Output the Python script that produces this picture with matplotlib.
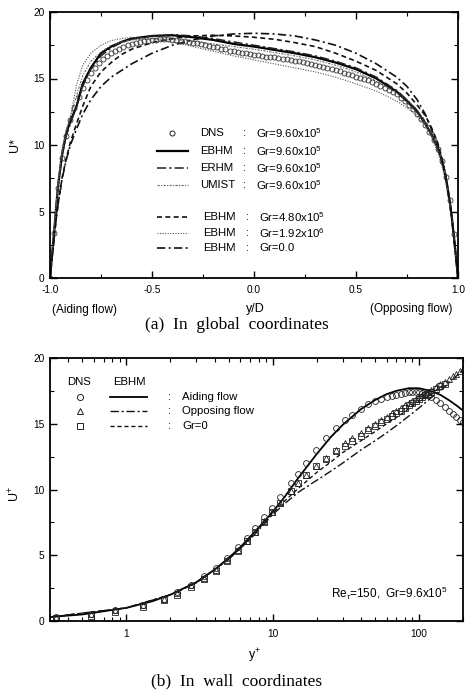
import matplotlib
matplotlib.use("Agg")
import matplotlib.pyplot as plt
from matplotlib.ticker import MultipleLocator, LogLocator, NullFormatter, FixedLocator, FixedFormatter

plt.rcParams['font.family'] = ['Liberation Sans', 'DejaVu Sans']
plt.rcParams['mathtext.fontset'] = 'custom'
plt.rcParams['mathtext.rm'] = 'Liberation Sans'
plt.rcParams['mathtext.it'] = 'Liberation Sans:italic'

# ---------------- (a) global coordinates ----------------
yd_grid = [-1.0, -0.99, -0.98, -0.97, -0.96, -0.94, -0.92, -0.90, -0.87, -0.84,
           -0.80, -0.75, -0.70, -0.65, -0.60, -0.50, -0.40, -0.30, -0.20, -0.10,
           0.0, 0.10, 0.20, 0.30, 0.40, 0.50, 0.60, 0.70, 0.75, 0.80,
           0.84, 0.87, 0.90, 0.92, 0.94, 0.96, 0.97, 0.98, 0.99, 1.0]
ebhm_96 = [0, 1.7, 3.4, 5.3, 7.0, 9.4, 10.9, 11.8, 12.9, 14.6,
           15.8, 16.9, 17.4, 17.75, 18.0, 18.2, 18.25, 18.1, 17.9, 17.6,
           17.4, 17.15, 16.9, 16.6, 16.2, 15.7, 15.0, 14.0, 13.3, 12.5,
           11.6, 10.8, 9.8, 8.9, 7.6, 5.7, 4.5, 3.1, 1.6, 0]
erhm_96 = [0, 1.7, 3.4, 5.2, 6.9, 9.2, 10.7, 11.6, 12.9, 14.4,
           15.7, 16.7, 17.3, 17.7, 17.95, 18.2, 18.3, 18.2, 18.0, 17.75,
           17.5, 17.25, 17.0, 16.7, 16.3, 15.8, 15.1, 14.1, 13.4, 12.6,
           11.7, 10.9, 9.9, 9.0, 7.7, 5.8, 4.6, 3.2, 1.6, 0]
umist_96 = [0, 1.8, 3.5, 5.4, 7.2, 9.6, 11.1, 12.1, 13.7, 15.2,
            16.3, 17.0, 17.5, 17.75, 17.9, 18.0, 17.95, 17.8, 17.6, 17.4,
            17.2, 16.95, 16.7, 16.4, 16.0, 15.5, 14.8, 13.9, 13.2, 12.4,
            11.6, 10.8, 9.8, 8.9, 7.6, 5.7, 4.5, 3.1, 1.6, 0]
ebhm_48 = [0, 1.5, 3.0, 4.4, 5.6, 7.6, 9.0, 10.2, 11.6, 12.9,
           14.4, 15.5, 16.2, 16.8, 17.2, 17.7, 18.0, 18.2, 18.25, 18.2,
           18.1, 17.95, 17.7, 17.4, 16.9, 16.3, 15.6, 14.6, 13.9, 13.0,
           12.2, 11.3, 10.2, 9.1, 7.7, 5.7, 4.5, 3.1, 1.6, 0]
ebhm_192 = [0, 1.8, 3.6, 5.5, 7.3, 9.8, 11.2, 12.1, 14.5, 16.0,
            16.9, 17.5, 17.85, 18.0, 18.1, 18.0, 17.75, 17.4, 17.05, 16.7,
            16.4, 16.1, 15.8, 15.5, 15.1, 14.6, 14.05, 13.3, 12.8, 12.2,
            11.4, 10.6, 9.5, 8.5, 7.2, 5.4, 4.3, 3.0, 1.5, 0]
ebhm_gr0 = [0, 1.5, 3.0, 4.4, 5.6, 7.5, 8.9, 10.0, 11.2, 12.3,
            13.4, 14.4, 15.1, 15.6, 16.1, 16.9, 17.5, 17.9, 18.2, 18.35,
            18.4, 18.35, 18.2, 17.9, 17.5, 16.9, 16.1, 15.1, 14.4, 13.4,
            12.3, 11.2, 10.0, 8.9, 7.5, 5.6, 4.4, 3.0, 1.5, 0]

dns_yd = [-1.00, -0.98, -0.96, -0.94, -0.92, -0.90, -0.88, -0.86, -0.84, -0.82,
          -0.80, -0.78, -0.76, -0.74, -0.72, -0.70, -0.68, -0.66, -0.64, -0.62,
          -0.60, -0.58, -0.56, -0.54, -0.52, -0.50, -0.48, -0.46, -0.44, -0.42,
          -0.40, -0.38, -0.36, -0.34, -0.32, -0.30, -0.28, -0.26, -0.24, -0.22,
          -0.20, -0.18, -0.16, -0.14, -0.12, -0.10, -0.08, -0.06, -0.04, -0.02,
          0.00, 0.02, 0.04, 0.06, 0.08, 0.10, 0.12, 0.14, 0.16, 0.18,
          0.20, 0.22, 0.24, 0.26, 0.28, 0.30, 0.32, 0.34, 0.36, 0.38,
          0.40, 0.42, 0.44, 0.46, 0.48, 0.50, 0.52, 0.54, 0.56, 0.58,
          0.60, 0.62, 0.64, 0.66, 0.68, 0.70, 0.72, 0.74, 0.76, 0.78,
          0.80, 0.82, 0.84, 0.86, 0.88, 0.90, 0.92, 0.94, 0.96, 0.98, 1.00]
dns_u = [0.0, 3.4, 6.8, 9.0, 10.7, 11.9, 12.8, 13.6, 14.3, 14.9,
         15.4, 15.8, 16.15, 16.45, 16.7, 16.9, 17.1, 17.25, 17.4, 17.5,
         17.6, 17.7, 17.75, 17.8, 17.85, 17.9, 17.9, 17.95, 17.95, 17.95,
         17.9, 17.9, 17.85, 17.8, 17.75, 17.7, 17.65, 17.6, 17.5, 17.45,
         17.4, 17.35, 17.25, 17.2, 17.1, 17.05, 17.0, 16.95, 16.9, 16.85,
         16.8, 16.75, 16.7, 16.65, 16.65, 16.6, 16.55, 16.5, 16.45, 16.4,
         16.35, 16.3, 16.25, 16.2, 16.1, 16.05, 15.95, 15.9, 15.8, 15.75,
         15.65, 15.55, 15.45, 15.35, 15.25, 15.15, 15.05, 14.95, 14.85, 14.7,
         14.6, 14.45, 14.3, 14.15, 14.0, 13.8, 13.55, 13.3, 13.0, 12.7,
         12.35, 11.95, 11.5, 11.0, 10.4, 9.7, 8.8, 7.6, 5.9, 3.3, 0.0]

legend_a_names = ["DNS", "EBHM", "ERHM", "UMIST", "EBHM", "EBHM", "EBHM"]
legend_a_gr = ["Gr=9.60x10$^5$", "Gr=9.60x10$^5$", "Gr=9.60x10$^5$", "Gr=9.60x10$^5$",
               "Gr=4.80x10$^5$", "Gr=1.92x10$^6$", "Gr=0.0"]

# ---------------- (b) wall coordinates ----------------
dns_yp = [0.33, 0.57, 0.84, 1.3, 1.8, 2.2, 2.75, 3.4, 4.1, 4.9,
          5.8, 6.7, 7.6, 8.7, 9.9, 11.3, 13.3, 14.8, 16.8, 19.7,
          23, 27, 31, 35, 40, 45, 50, 55, 60, 65,
          70, 75, 80, 85, 90, 95, 100, 105, 110, 115,
          120, 130, 140, 150, 160, 170, 180, 190, 200]
dns_aid = [0.3, 0.5, 0.8, 1.2, 1.7, 2.2, 2.75, 3.4, 4.0, 4.8,
           5.6, 6.3, 7.1, 7.9, 8.6, 9.4, 10.5, 11.2, 12.0, 13.0,
           13.9, 14.7, 15.3, 15.7, 16.1, 16.5, 16.7, 16.9, 17.0, 17.1,
           17.2, 17.3, 17.35, 17.4, 17.45, 17.45, 17.4, 17.35, 17.25, 17.15,
           17.0, 16.8, 16.55, 16.3, 16.0, 15.75, 15.5, 15.3, 15.1]
dns_opp = [0.3, 0.5, 0.8, 1.2, 1.7, 2.15, 2.7, 3.3, 3.9, 4.65,
           5.4, 6.1, 6.8, 7.6, 8.3, 9.0, 9.9, 10.5, 11.1, 11.8,
           12.4, 13.0, 13.5, 13.9, 14.3, 14.7, 15.0, 15.3, 15.55, 15.8,
           16.0, 16.2, 16.4, 16.6, 16.75, 16.9, 17.05, 17.2, 17.3, 17.45,
           17.55, 17.8, 18.0, 18.2, 18.4, 18.6, 18.8, 19.0, 19.2]
dns_gr0_yp = [0.33, 0.57, 0.84, 1.3, 1.8, 2.2, 2.75, 3.4, 4.1, 4.9,
              5.8, 6.7, 7.6, 8.7, 9.9, 11.3, 13.3, 14.8, 16.8, 19.7,
              23, 27, 31, 35, 40, 45, 50, 55, 60, 65,
              70, 75, 80, 85, 90, 95, 100, 105, 110, 115,
              120, 130, 140, 150]
dns_gr0 = [0.2, 0.4, 0.7, 1.1, 1.6, 2.0, 2.6, 3.2, 3.8, 4.6,
           5.3, 6.1, 6.8, 7.5, 8.3, 9.0, 9.9, 10.5, 11.1, 11.8,
           12.3, 12.9, 13.3, 13.7, 14.1, 14.5, 14.8, 15.1, 15.35, 15.6,
           15.8, 16.0, 16.2, 16.4, 16.55, 16.7, 16.85, 17.0, 17.15, 17.3,
           17.4, 17.65, 17.85, 18.0]

ebhm_aid_yp = [0.3, 0.5, 1, 1.5, 2, 3, 4, 5, 6, 7, 8, 10, 12, 15, 20, 25, 30,
               40, 50, 60, 70, 85, 100, 120, 140, 160, 180, 200]
ebhm_aid = [0.3, 0.5, 1.0, 1.5, 2.0, 2.95, 3.9, 4.8, 5.6, 6.4, 7.1, 8.3, 9.4, 10.9,
            12.7, 14.0, 14.9, 16.1, 16.8, 17.25, 17.5, 17.7, 17.7, 17.5, 17.2,
            16.8, 16.4, 16.0]
ebhm_opp_yp = [0.3, 1, 2, 3, 5, 7, 10, 12, 15, 20, 25, 30, 40, 50, 60, 75,
               100, 125, 150, 175, 200]
ebhm_opp = [0.3, 1.0, 2.0, 2.9, 4.7, 6.2, 8.1, 8.9, 9.8, 10.7, 11.4, 12.0, 13.0,
            13.7, 14.3, 15.1, 16.2, 17.1, 17.8, 18.5, 19.1]
ebhm_gr0_yp = [0.3, 1, 2, 3, 5, 7, 10, 12, 15, 20, 25, 30, 40, 50, 60, 75,
               100, 125, 150]
ebhm_gr0b = [0.3, 1.0, 2.0, 2.9, 4.7, 6.3, 8.2, 9.1, 10.1, 11.3, 12.1, 12.8, 13.7,
             14.4, 15.0, 15.7, 16.7, 17.4, 18.0]

legend_b_labels = ["Aiding flow", "Opposing flow", "Gr=0"]

# ---------------- figure ----------------
W, H = 466, 693
fig = plt.figure(figsize=(W / 100, H / 100), dpi=100)

def fx(px):
    return px / W

def fy(py):
    return 1 - py / H

TS = 7.3
LS = 8.2

# panel (a)
axa = fig.add_axes([fx(50), fy(278), fx(458) - fx(50), fy(12) - fy(278)])
axa.plot(yd_grid, ebhm_96, color='black', lw=1.6, ls='-')
axa.plot(yd_grid, erhm_96, color='#222222', lw=1.1, ls=(0, (6, 2, 1.5, 2)))
axa.plot(yd_grid, umist_96, color='#666666', lw=0.8, ls=(0, (2, 1.2, 1, 1.2)))
axa.plot(yd_grid, ebhm_48, color='#111111', lw=1.2, ls=(0, (3, 2)))
axa.plot(yd_grid, ebhm_192, color='#555555', lw=0.8, ls=(0, (1, 1.3)))
axa.plot(yd_grid, ebhm_gr0, color='#111111', lw=1.2, ls=(0, (5, 2, 1.2, 2)))
axa.plot(dns_yd, dns_u, ls='none', marker='o', ms=3.6, mfc='none', mec='#333333', mew=0.6)

axa.set_xlim(-1.0, 1.0)
axa.set_ylim(0, 20)
axa.xaxis.set_minor_locator(MultipleLocator(0.25))
axa.yaxis.set_minor_locator(MultipleLocator(2.5))
axa.set_yticks([0, 5, 10, 15, 20])
axa.set_yticklabels(["0", "5", "10", "15", "20"])
axa.set_xticks([-1.0, -0.5, 0.0, 0.5, 1.0])
axa.set_xticklabels(["-1.0", "-0.5", "0.0", "0.5", "1.0"])
axa.tick_params(which='both', direction='in', top=True, right=True, labelsize=TS)
axa.tick_params(axis='x', pad=5)
axa.tick_params(axis='y', pad=4)
axa.tick_params(which='major', length=5, width=1)
axa.tick_params(which='minor', length=3, width=0.8)
for s in axa.spines.values():
    s.set_linewidth(1.3)

fig.text(fx(15), fy(145), "U*", rotation=90, ha='center', va='center', fontsize=9)
fig.text(fx(255), fy(309), "y/D", ha='center', va='center', fontsize=9)
fig.text(fx(85), fy(310), "(Aiding flow)", ha='center', va='center', fontsize=8.5)
fig.text(fx(411), fy(309), "(Opposing flow)", ha='center', va='center', fontsize=8.5)
fig.text(fx(237), fy(325), "(a)  In  global  coordinates", ha='center', va='center',
         fontsize=12.5, family='Liberation Serif')

# legend (a)
rows_py = [133, 151, 168, 185, 217, 233, 248]
styles = [
    dict(ls='none', marker='o', ms=3.6, mfc='none', mec='#222222', mew=0.7),
    dict(color='black', lw=1.6, ls='-'),
    dict(color='#222222', lw=1.1, ls=(0, (6, 2, 1.5, 2))),
    dict(color='#666666', lw=0.8, ls=(0, (2, 1.2, 1, 1.2))),
    dict(color='#111111', lw=1.2, ls=(0, (3, 2))),
    dict(color='#555555', lw=0.8, ls=(0, (1, 1.3))),
    dict(color='#111111', lw=1.2, ls=(0, (5, 2, 1.2, 2))),
]
for i, (py, name, gr, st) in enumerate(zip(rows_py, legend_a_names, legend_a_gr, styles)):
    if i == 0:
        fig.add_artist(plt.Line2D([fx(172)], [fy(py)], transform=fig.transFigure, **st))
    else:
        fig.add_artist(plt.Line2D([fx(157), fx(188)], [fy(py), fy(py)],
                                  transform=fig.transFigure, **st))
    xo = 0 if i < 4 else 3
    fig.text(fx(200 + xo), fy(py), name, ha='left', va='center', fontsize=LS)
    fig.text(fx(245 + xo), fy(py), ":", ha='center', va='center', fontsize=LS)
    fig.text(fx(256 + xo), fy(py), gr, ha='left', va='center', fontsize=LS)

# panel (b)
axb = fig.add_axes([fx(50), fy(621), fx(463) - fx(50), fy(358) - fy(621)])
axb.plot(ebhm_aid_yp, ebhm_aid, color='black', lw=1.3, ls='-')
axb.plot(ebhm_opp_yp, ebhm_opp, color='#111111', lw=1.0, ls=(0, (6, 2, 1.5, 2)))
axb.plot(ebhm_gr0_yp, ebhm_gr0b, color='#111111', lw=1.0, ls=(0, (3, 2)))
axb.plot(dns_yp, dns_aid, ls='none', marker='o', ms=4.2, mfc='none', mec='#222222', mew=0.6)
axb.plot(dns_yp, dns_opp, ls='none', marker='^', ms=4.4, mfc='none', mec='#222222', mew=0.6)
axb.plot(dns_gr0_yp, dns_gr0, ls='none', marker='s', ms=4.0, mfc='none', mec='#222222', mew=0.6)

axb.set_xscale('log')
axb.set_xlim(0.3, 200)
axb.set_ylim(0, 20)
axb.xaxis.set_major_locator(FixedLocator([1, 10, 100]))
axb.xaxis.set_major_formatter(FixedFormatter(["1", "10", "100"]))
axb.xaxis.set_minor_locator(LogLocator(base=10, subs=range(2, 10)))
axb.xaxis.set_minor_formatter(NullFormatter())
axb.yaxis.set_major_locator(MultipleLocator(5))
axb.yaxis.set_minor_locator(MultipleLocator(2.5))
axb.tick_params(which='both', direction='in', top=True, right=True, labelsize=TS)
axb.tick_params(axis='x', pad=6)
axb.tick_params(axis='y', pad=4)
axb.tick_params(which='major', length=5, width=1)
axb.tick_params(which='minor', length=3, width=0.8)
for s in axb.spines.values():
    s.set_linewidth(1.3)

fig.text(fx(15), fy(494), "U$^{+}$", rotation=90, ha='center', va='center', fontsize=9)
fig.text(fx(255), fy(656), "y$^{+}$", ha='center', va='center', fontsize=9)
fig.text(fx(237), fy(681), "(b)  In  wall  coordinates", ha='center', va='center',
         fontsize=12.5, family='Liberation Serif')
fig.text(fx(447), fy(593), "Re$_{\\tau}$=150,  Gr=9.6x10$^{5}$", ha='right', va='center',
         fontsize=8.5)

# legend (b)
fig.text(fx(79), fy(382), "DNS", ha='center', va='center', fontsize=LS)
fig.text(fx(129), fy(382), "EBHM", ha='center', va='center', fontsize=LS)
rows_b = [397, 411, 426]
mk = ['o', '^', 's']
lst = [dict(color='black', lw=1.3, ls='-'),
       dict(color='#111111', lw=1.0, ls=(0, (6, 2, 1.5, 2))),
       dict(color='#111111', lw=1.0, ls=(0, (3, 2)))]
for py, m, st, lab in zip(rows_b, mk, lst, legend_b_labels):
    fig.add_artist(plt.Line2D([fx(80)], [fy(py)], transform=fig.transFigure, ls='none',
                              marker=m, ms=4.4, mfc='none', mec='#222222', mew=0.7))
    fig.add_artist(plt.Line2D([fx(110), fx(147)], [fy(py), fy(py)],
                              transform=fig.transFigure, **st))
    fig.text(fx(170), fy(py), ":", ha='center', va='center', fontsize=LS)
    fig.text(fx(182), fy(py), lab, ha='left', va='center', fontsize=LS)

fig.savefig("out.png", dpi=100)
